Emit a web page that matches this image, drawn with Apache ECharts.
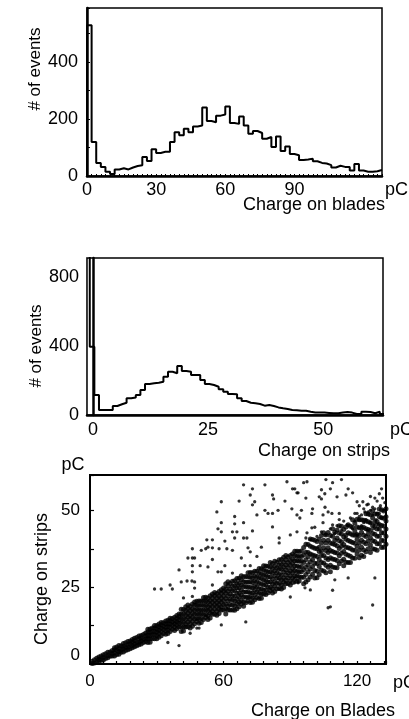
<!DOCTYPE html>
<html><head><meta charset="utf-8">
<script src="https://cdn.jsdelivr.net/npm/echarts@6/dist/echarts.min.js"></script>
<style>html,body{margin:0;padding:0;background:#fff}#c{width:409px;height:719px}</style>
</head><body><div id="c"></div>
<script>
// ---- Panel 1: charge on blades histogram (2 pC bins from 0) ----
const bladesBinStart = 0;
const bladesBinWidth = 2;
const bladesCounts = [529,119,46,32,15,7,23,27,23,30,35,38,67,53,94,81,85,85,119,154,143,166,154,174,177,241,193,189,212,216,244,186,183,209,177,148,158,151,131,137,102,139,88,104,77,73,56,58,61,52,46,44,38,30,36,32,32,19,42,19,15,15,17,21];
const bladesXLabels = [0, 30, 60, 90];
const bladesYLabels = [0, 200, 400];

// ---- Panel 2: charge on strips histogram (1 pC bins from -1.7) ----
const stripsBinStart = -1.7;
const stripsBinWidth = 1;
const stripsCounts = [1500,396,116,29,29,29,52,62,71,97,102,116,145,180,184,187,193,222,251,242,284,255,251,232,232,203,180,174,164,149,135,122,120,97,81,71,68,64,54,58,52,44,39,35,29,27,25,25,19,15,15,14,12,10,10,14,17,14,6,6,19,17,10,19,6];
const stripsXLabels = [0, 25, 50];
const stripsYLabels = [0, 400, 800];

// ---- Panel 3: strips vs blades scatter ----
const scatterXLabels = [0, 60, 120];
const scatterYLabels = [0, 25, 50];
// dense band: [blades charge, strips charges...]
const bandRows = [
[1,0.2,0.9],[2,0.3,1.4],[3,0.6,1.9],[4,0.7,1.5,2.3],[5,1.2,2.6],[6,1.3,2.1,3.0],[7,1.8,3.3],[8,2.0,2.7,3.8],[9,2.5,3.9],[10,2.6,3.4,4.4],
[11,2.6,3.7,4.6,5.3],[12,3.1,4.5,5.5],[13,3.2,4.1,5.0,6.0],[14,3.8,4.6,5.9],[15,3.9,5.0,5.8,6.7],[16,4.4,5.4,6.9],[17,4.6,5.5,6.3,7.3],[18,5.0,6.5,7.5],[19,5.3,6.0,7.1,8.0],[20,5.6,6.6,7.6,8.4],
[21,5.9,7.0,8.6],[22,6.3,7.1,8.1,9.1],[23,6.5,7.6,8.5,9.3],[24,7.0,8.0,9.6],[25,7.2,8.2,9.1,10.1],
[26,7.0,8.2,9.3,10.4,11.3],[27,7.1,8.2,9.3,10.3,11.4],[28,8.2,9.5,10.6,11.7],[29,8.2,9.5,10.6,11.7,12.5],[30,8.2,9.3,10.4,11.4,12.5],
[31,8.7,9.9,11.0,12.1,13.0],[32,9.2,10.5,11.6,12.7,13.5],[33,9.9,11.2,12.3,13.4],[34,9.7,10.9,12.0,13.1,14.0],[35,9.9,11.0,12.1,13.1,14.2],
[36,10.6,11.9,13.0,14.1,14.9],[37,11.3,12.6,13.7,14.8],[38,10.9,12.0,13.1,14.1,15.2],[39,11.5,12.7,13.8,14.9,15.8],[40,12.0,13.3,14.4,15.5,16.3],
[41,10.6,12.1,13.5,14.9,16.3,17.8],[42,10.7,12.0,13.5,14.8,16.3,17.7],[43,12.0,13.0,14.5,15.9,17.3,18.6],[44,12.1,13.7,15.2,16.6,18.1,19.2],[45,11.7,13.0,14.5,15.8,17.3,18.7],
[46,12.3,13.8,15.2,16.6,18.0,19.5],[47,13.1,14.7,16.2,17.6,19.1,20.2],[48,13.8,14.8,16.3,17.7,19.1,20.4],[49,13.3,14.8,16.2,17.6,19.0,20.5],[50,13.5,14.8,16.3,17.6,19.1,20.5],
[51,14.5,16.1,17.6,19.0,20.5,21.6],[52,15.1,16.1,17.6,19.0,20.4,21.7],[53,14.5,15.8,17.3,18.6,20.1,21.5],[54,15.0,16.5,17.9,19.3,20.7,22.2],[55,16.2,17.2,18.7,20.1,21.5,22.8],
[56,16.2,17.8,19.3,20.7,22.2,23.3],[57,15.9,17.2,18.7,20.0,21.5,22.9],[58,16.4,17.9,19.3,20.7,22.1,23.6],[59,17.6,18.6,20.1,21.5,22.9,24.2],[60,17.6,19.2,20.7,22.1,23.6,24.7],
[61,16.3,18.0,19.5,21.3,23.0,24.5,26.1],[62,17.6,18.8,20.5,22.1,23.7,25.4,26.8],[63,17.6,19.4,21.1,22.8,24.4,26.2],[64,17.6,19.2,20.8,22.2,23.8,25.3,26.9],[65,17.5,18.9,20.5,22.1,23.9,25.5,27.1],
[66,18.0,19.7,21.2,23.0,24.7,26.2,27.8],[67,18.6,20.2,21.8,23.2,24.8,26.3,27.9],[68,19.5,20.7,22.4,24.0,25.6,27.3,28.7],[69,18.8,20.2,21.8,23.4,25.2,26.8,28.4],[70,19.9,21.7,23.4,25.1,26.7,28.5],
[71,20.5,21.7,23.4,25.0,26.6,28.3,29.7],[72,20.0,21.7,23.2,25.0,26.7,28.2,29.8],[73,20.1,21.5,23.1,24.7,26.5,28.1,29.7],[74,20.9,22.5,24.1,25.5,27.1,28.6,30.2],[75,21.6,23.4,25.1,26.8,28.4,30.2],
[76,21.3,23.0,24.5,26.3,28.0,29.5,31.1],[77,21.4,22.8,24.4,26.0,27.8,29.4,31.0],[78,22.8,24.0,25.7,27.3,28.9,30.6,32.0],[79,22.6,24.2,25.8,27.2,28.8,30.3,31.9],[80,23.2,25.0,26.7,28.4,30.0,31.8],
[81,23.8,25.0,26.7,28.3,29.9,31.6,33.0],[82,23.1,24.5,26.1,27.7,29.5,31.1,32.7],[83,23.6,25.3,26.8,28.6,30.3,31.8,33.4],[84,24.5,26.3,28.0,29.7,31.3,33.1],[85,24.6,26.2,27.8,29.2,30.8,32.3,33.9],
[86,24.4,25.8,27.4,29.0,30.8,32.4,34.0],[87,24.9,26.6,28.1,29.9,31.6,33.1,34.7],[88,26.1,27.3,29.0,30.6,32.2,33.9,35.3],[89,26.2,28.0,29.7,31.4,33.0,34.8],[90,25.7,27.1,28.7,30.3,32.1,33.7,35.3],
[91,26.5,28.1,29.7,31.1,32.7,34.2,35.8],[92,27.5,28.7,30.4,32.0,33.6,35.3,36.7],[93,26.9,28.6,30.1,31.9,33.6,35.1,36.7],[94,27.0,28.4,30.0,31.6,33.4,35.0,36.6],[95,28.2,30.0,31.7,33.4,35.0,36.8],
[96,26.1,28.2,30.7,33.0,35.5,37.9],[97,26.7,29.1,31.5,33.9,36.4,39.0],[98,27.4,30.0,32.3,34.9,36.3,38.9],[99,28.3,30.9,33.3,35.8,38.3,40.7],[100,29.2,31.7,34.0,35.5,38.0,40.5],
[101,28.0,30.4,32.8,35.2,37.7,40.3],[102,28.1,30.2,32.7,35.0,37.5,39.9],[103,29.1,31.7,34.0,36.6,38.0,40.6],[104,30.5,33.0,35.3,36.8,39.3,41.8],[105,30.3,32.9,35.3,37.8,40.3,42.7],
[106,29.7,32.1,34.5,36.9,39.4,42.0],[107,31.5,34.0,36.3,37.8,40.3,42.8],[108,30.0,32.1,34.6,36.9,39.4,41.8],[109,31.6,34.2,36.6,39.1,41.6,44.0],[110,31.4,34.0,36.3,38.9,40.3,42.9],
[111,31.3,33.7,36.1,38.5,41.0,43.6],[112,32.6,35.2,37.6,40.1,42.6,45.0],[113,33.5,36.0,38.3,39.8,42.3,44.8],[114,32.0,34.1,36.6,38.9,41.4,43.8],[115,33.1,35.7,38.0,40.6,42.0,44.6],
[116,33.0,35.4,37.8,40.2,42.7,45.3],[117,33.0,35.1,37.6,39.9,42.4,44.8],[118,34.5,37.1,39.5,42.0,44.5,46.9],[119,34.4,37.0,39.3,41.9,43.3,45.9],[120,35.8,38.3,40.6,42.1,44.6,47.1],
[121,34.6,37.0,39.4,41.8,44.3,46.9],[122,35.4,38.0,40.3,42.9,44.3,46.9],[123,35.0,37.1,39.6,41.9,44.4,46.8],[124,36.5,39.1,41.5,44.0,46.5,48.9],[125,37.5,40.0,42.3,43.8,46.3,48.8],
[126,36.3,38.7,41.1,43.5,46.0,48.6],[127,37.5,40.1,42.5,45.0,47.5,49.9],[128,37.3,39.9,42.2,44.8,46.2,48.8],[129,37.0,39.1,41.6,43.9,46.4,48.8],[130,39.1,41.6,43.9,45.4,47.9,50.4],
[131,37.9,40.3,42.7,45.1,47.6,50.2],[132,38.0,40.1,42.6,44.9,47.4,49.8],[133,39.0,41.6,43.9,46.5,47.9,50.5]
];
// scattered events off the band
const outliers = [
[29,24.4],[32,24.4],[36,25.7],[37,24.4],[40,30.6],[41,26.7],[42,21.5],[43.6,27],[45.8,27],[46,30],[46,32],[44,34.5],[46,34.5],[46,37.5],[46,22],[35,7],[40,6],
[69,58.3],[73,57],[78.6,58.3],[88.5,59.3],[72,55],[82,55],[82.5,53.7],[91,57],[93,55.7],[59,52.8],[67,53],[73,51.8],[74,52.8],[84.5,50],[87.6,53],[57,49.5],[75,48.5],[78.6,50],[80,49],[82,49],[65,48],[93,48.5],[59,46],[65,45.6],[69,46],[57.5,44],[59,43],[64,43],[66,43],[73,43.3],[82,44.6],[65,41],[69,41],[70.5,41],[52.5,40.4],[55,40.4],[60.6,40],[85,41],[85,39.4],[90,42],
[50,37],[52,37.5],[53,38],[55,37.8],[58,37.5],[61.5,37.5],[64,37],[71,37.8],[72,36.5],[77,38],[47,34.5],[55,34],[68,34.5],[75,35],[49.5,32],[53,31.6],[60.6,32],[69.6,32],[72,32],[57.5,30],[59,30],[64,29.6],[55,25.7],[47,26.7],[47,24.7],[70,13.7],[59,12.7],[48,11.7],[49,11.7],[45,10],
[96,59],[97.5,59.3],[106,60],[109,59],[113,60],[92,57],[93.5,55.7],[104,56.7],[105.5,55.4],[108,57],[116,57],[118,55.7],[97,54],[103,54.4],[104,53.7],[111,54.4],[115,55],[128,54],[130,55.4],[131,57],[120,52.8],[122.6,52.8],[124.4,51.8],[90.7,50.5],[95,50],[100,50.5],[105.6,51],[107,49.5],[112,49],[126,50],[127,51],[129,49],
[94.3,47.5],[99.7,49],[104.7,48.5],[108.7,49],[120,49],[122,48.5],[123.5,49.5],[104.7,46],[109,45.3],[112,47],[115.5,45.3],[93,43],[97.5,42.7],[99.7,44.3],
[128,28],[108,18.6],[127,19.2],[122,15],[116,28],[110,27.4],[92,26.4],[93.5,26.4],[96.6,24.8],[99,24.1],[90,21.8],[107,18.3],[109,24],
[118,44],[119,46.5],[120,42],[121,48],[122,45],[123,50.5],[124,47],[124.5,43.5],[125,52],[126,46],[127,48.5],[127.5,44],[128,50.5],[128.5,47],[129,53],[129.5,45.5],[130,49],[130.5,51.5],[131,47.5],[131.5,54],[132,50],[132.5,52.5],[126,54.5],[125,49.5],[123,46],[121,51.5],[119,49],[117,47.5],[116,45],[114,46.5],[113,43.5],[111,45],[110,42.5],[108,44],[106,42],[104,43],[102,41.5],[101,44.5],[99,40.5],[97,41]
];

function stepData(start, width, counts) {
  const d = [[start, 0]];
  counts.forEach((c, i) => d.push([start + i * width, c]));
  d.push([start + counts.length * width, counts[counts.length - 1]]);
  return d;
}
const bandPoints = [];
bandRows.forEach(r => r.slice(1).forEach(y => bandPoints.push([r[0], y])));

const FONT = '"Liberation Sans", Arial, Helvetica, sans-serif';
const black = '#000';
function txt(x, y, text, align, rot, size) {
  return { type: 'text', x: x, y: y, rotation: rot || 0, silent: true,
    style: { text: text, font: (size || 18) + 'px ' + FONT, fill: black, align: align || 'center', verticalAlign: 'middle' } };
}
const axLine = w => ({ show: true, lineStyle: { color: black, width: w } });

const chart = echarts.init(document.getElementById('c'));
chart.setOption({
  animation: false,
  backgroundColor: '#fff',
  grid: [
    { left: 87, top: 8, width: 295, height: 168, show: true, borderColor: black, borderWidth: 1.5 },
    { left: 87, top: 258, width: 296, height: 157, show: true, borderColor: black, borderWidth: 1.5 },
    { left: 90, top: 475, width: 296, height: 189, show: true, borderColor: black, borderWidth: 2 }
  ],
  xAxis: [
    { gridIndex: 0, type: 'value', min: 0, max: 128, interval: 2, axisLine: axLine(2.5),
      axisTick: { show: true, inside: true, length: 2, lineStyle: { color: black, width: 1 } },
      axisLabel: { customValues: bladesXLabels, margin: 5, fontSize: 18, fontFamily: FONT, color: black },
      splitLine: { show: false } },
    { gridIndex: 1, type: 'value', min: -1.3, max: 63, axisLine: axLine(2.5),
      axisTick: { show: false },
      axisLabel: { customValues: stripsXLabels, margin: 6, fontSize: 18, fontFamily: FONT, color: black },
      splitLine: { show: false } },
    { gridIndex: 2, type: 'value', min: 0, max: 133, interval: 6, axisLine: axLine(2),
      axisTick: { show: true, inside: true, length: 3, lineStyle: { color: black, width: 1.2 } },
      axisLabel: { customValues: scatterXLabels, margin: 9, fontSize: 17, fontFamily: FONT, color: black },
      splitLine: { show: false } }
  ],
  yAxis: [
    { gridIndex: 0, type: 'value', min: 0, max: 590, interval: 100, axisLine: axLine(2.5),
      axisTick: { show: true, inside: true, length: 3, lineStyle: { color: black, width: 1 } },
      axisLabel: { customValues: bladesYLabels, margin: 9, fontSize: 18, fontFamily: FONT, color: black },
      splitLine: { show: false } },
    { gridIndex: 1, type: 'value', min: 0, max: 910, axisLine: axLine(2.5),
      axisTick: { show: false },
      axisLabel: { customValues: stripsYLabels, margin: 8, fontSize: 18, fontFamily: FONT, color: black },
      splitLine: { show: false } },
    { gridIndex: 2, type: 'value', min: 0, max: 61.5, interval: 12.5, axisLine: axLine(2),
      axisTick: { show: true, inside: true, length: 4, lineStyle: { color: black, width: 1.2 } },
      axisLabel: { customValues: scatterYLabels, margin: 10, fontSize: 17, fontFamily: FONT, color: black, verticalAlignMinLabel: 'bottom' },
      splitLine: { show: false } }
  ],
  series: [
    { type: 'line', xAxisIndex: 0, yAxisIndex: 0, step: 'end', showSymbol: false, symbol: 'none',
      lineStyle: { color: black, width: 2 }, data: stepData(bladesBinStart, bladesBinWidth, bladesCounts) },
    { type: 'line', xAxisIndex: 1, yAxisIndex: 1, step: 'end', showSymbol: false, symbol: 'none',
      lineStyle: { color: black, width: 2 }, data: stepData(stripsBinStart, stripsBinWidth, stripsCounts) },
    { type: 'scatter', xAxisIndex: 2, yAxisIndex: 2, symbol: 'circle', symbolSize: 5,
      itemStyle: { color: black }, data: bandPoints },
    { type: 'scatter', xAxisIndex: 2, yAxisIndex: 2, symbol: 'circle', symbolSize: 3.3,
      itemStyle: { color: black }, data: outliers }
  ],
  graphic: [
    txt(35, 69, '# of events', 'center', Math.PI / 2, 17),
    txt(385, 190, 'pC', 'left'),
    txt(385, 205, 'Charge on blades', 'right'),
    txt(36, 346, '# of events', 'center', Math.PI / 2, 17),
    txt(390, 430, 'pC', 'left'),
    txt(390, 451, 'Charge on strips', 'right'),
    txt(73, 465, 'pC', 'center'),
    txt(42, 579, 'Charge on strips', 'center', Math.PI / 2),
    txt(393, 683, 'pC', 'left'),
    txt(395, 711, 'Charge on Blades', 'right')
  ]
});
</script>
</body></html>
